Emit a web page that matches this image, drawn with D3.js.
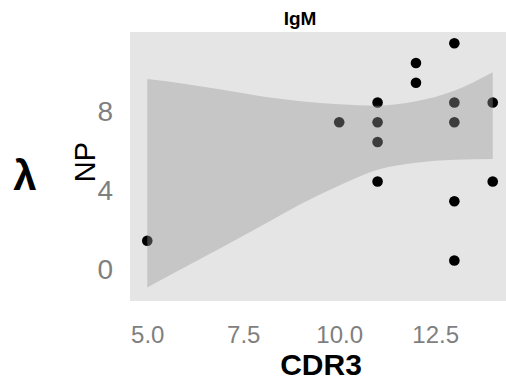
<!DOCTYPE html>
<html>
<head>
<meta charset="utf-8">
<script src="https://cdn.jsdelivr.net/npm/d3@7"></script>
<style>
  html, body { margin: 0; padding: 0; background: #fff; overflow: hidden; }
  svg { display: block; font-family: "Liberation Sans", Arial, sans-serif; }
</style>
</head>
<body>
<svg id="chart" width="506" height="381"></svg>
<script>
// Observations: CDR3 length vs NP
const cdr3 = [5, 10, 11, 11, 11, 11, 12, 12, 13, 13, 13, 13, 13, 14, 14];
const np   = [1.4, 7.4, 8.4, 7.4, 6.4, 4.4, 10.4, 9.4, 11.4, 8.4, 7.4, 3.4, 0.4, 8.4, 4.4];

// Smoother confidence band
const bandX    = [5, 6, 7, 8, 9, 10, 11, 12, 13, 14];
const bandLow  = [-0.97, 0.08, 1.12, 2.18, 3.26, 4.20, 5.00, 5.35, 5.50, 5.54];
const bandHigh = [9.59, 9.34, 9.03, 8.70, 8.46, 8.31, 8.24, 8.46, 9.00, 9.93];

// Axis ticks
const xTicks = [5, 7.5, 10, 12.5];
const yTicks = [0, 4, 8];

const svg = d3.select("#chart");

const panel = { left: 130, right: 510, top: 32, bottom: 301 };

const x = d3.scaleLinear().domain([4.55, 14.45]).range([panel.left, panel.right]);
const y = d3.scaleLinear().domain([-1.65, 11.97]).range([panel.bottom, panel.top]);

// Panel background
svg.append("rect")
  .attr("x", panel.left).attr("y", panel.top)
  .attr("width", panel.right - panel.left)
  .attr("height", panel.bottom - panel.top)
  .attr("fill", "#e5e5e5");

// Points
const pts = cdr3.map((c, i) => ({ c, v: np[i] }));
svg.append("g").selectAll("circle")
  .data(pts)
  .join("circle")
  .attr("cx", d => x(d.c))
  .attr("cy", d => y(d.v))
  .attr("r", 5.3)
  .attr("fill", "#000");

// Confidence ribbon drawn over the points
const band = bandX.map((bx, i) => ({ bx, lo: bandLow[i], hi: bandHigh[i] }));
const area = d3.area()
  .x(d => x(d.bx))
  .y0(d => y(d.lo))
  .y1(d => y(d.hi))
  .curve(d3.curveMonotoneX);
svg.append("path")
  .datum(band)
  .attr("d", area)
  .attr("fill", "#999999")
  .attr("fill-opacity", 0.4);

// X axis
const xAxis = svg.append("g")
  .attr("transform", `translate(0,${panel.bottom})`)
  .call(d3.axisBottom(x).tickValues(xTicks).tickSize(0).tickPadding(0).tickFormat(d3.format(".1f")));
xAxis.select(".domain").remove();
xAxis.selectAll("text")
  .attr("y", 34)
  .attr("dy", "0.35em")
  .attr("fill", "#7f7f7f")
  .style("font-size", "24px")
  .style("font-family", "'Liberation Sans', Arial, sans-serif");

// Y axis
const yAxis = svg.append("g")
  .attr("transform", `translate(${panel.left},0)`)
  .call(d3.axisLeft(y).tickValues(yTicks).tickSize(0).tickPadding(0).tickFormat(d3.format("d")));
yAxis.select(".domain").remove();
yAxis.selectAll("text")
  .attr("x", -17)
  .attr("dy", "0.36em")
  .attr("fill", "#7f7f7f")
  .style("font-size", "28px")
  .style("font-family", "'Liberation Sans', Arial, sans-serif");

// Title
svg.append("text")
  .attr("x", 300).attr("y", 25)
  .attr("text-anchor", "middle")
  .attr("font-weight", "bold")
  .attr("font-size", 19)
  .text("IgM");

// X axis title
svg.append("text")
  .attr("x", 321).attr("y", 375)
  .attr("text-anchor", "middle")
  .attr("font-weight", "bold")
  .attr("font-size", 30)
  .text("CDR3");

// Y axis title
svg.append("text")
  .attr("transform", "translate(95,162) rotate(-90)")
  .attr("text-anchor", "middle")
  .attr("font-size", 29)
  .text("NP");

// Chain label
svg.append("text")
  .attr("x", 25).attr("y", 190)
  .attr("text-anchor", "middle")
  .attr("font-weight", "bold")
  .attr("font-size", 42)
  .text("λ");
</script>
</body>
</html>
